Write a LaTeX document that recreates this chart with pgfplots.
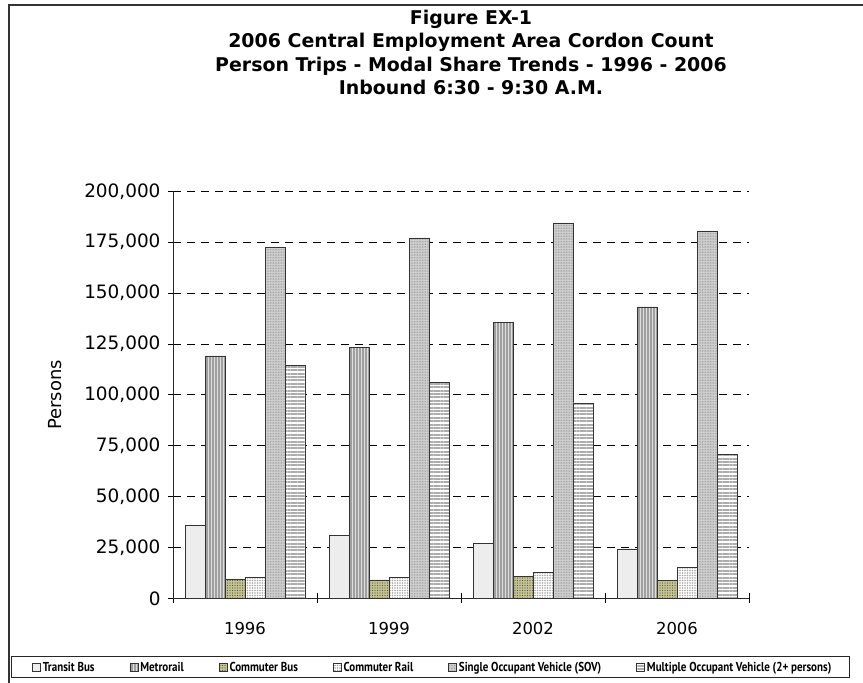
\documentclass[border=0pt]{standalone}
\usepackage{fontspec}
\setmainfont{DejaVu Sans}
\newfontfamily\legfont[FakeStretch=0.85]{PT Sans}
\usepackage{pgfplots}
\pgfplotsset{compat=1.18}
\usetikzlibrary{patterns,patterns.meta}

\definecolor{cbfill}{RGB}{196,196,150}
\definecolor{cbdot}{RGB}{90,90,50}

\pgfplotsset{
  tb/.style={draw=black!80, fill=gray!10, postaction={pattern={Dots[distance=2bp,radius=0.45bp]}, pattern color=gray!55}},
  mr/.style={draw=black!80, fill=gray!25, postaction={pattern={Lines[angle=90,distance=3bp,line width=1.3bp]}, pattern color=gray!75}},
  cb/.style={draw=black!80, fill=cbfill, postaction={pattern={Dots[distance=2.5bp,radius=0.7bp]}, pattern color=cbdot}},
  cr/.style={draw=black!80, fill=white, postaction={pattern={Dots[distance=2.5bp,radius=0.8bp]}, pattern color=gray!70}},
  sov/.style={draw=black!80, fill=gray!35, postaction={pattern={Dots[distance=1.6bp,radius=0.45bp]}, pattern color=gray!85}},
  mov/.style={draw=black!80, fill=white, postaction={pattern={Lines[angle=0,distance=3.4bp,line width=2bp]}, pattern color=gray!65}},
}

\begin{document}
\begin{tikzpicture}
  % outer chart frame
  \draw[line width=1.5bp, black!80] (9bp,0bp) -- (9bp,678bp) -- (863bp,678bp);

  \node[align=center, inner sep=0pt, anchor=north,
        font=\bfseries\fontsize{19}{23.5}\selectfont] at (471bp,673bp)
    {Figure EX-1\\2006 Central Employment Area Cordon Count\\Person Trips - Modal Share Trends - 1996 - 2006\\Inbound 6:30 - 9:30 A.M.};

  % legend frame
  \draw[line width=1bp, black!85] (11bp,5bp) rectangle (849bp,26bp);

  \begin{axis}[
      at={(173bp,84.7bp)}, anchor=south west,
      scale only axis, width=576bp, height=407bp,
      ybar=0pt, bar width=20bp,
      xmin=-0.5, xmax=3.5, ymin=0, ymax=200000,
      xtick={-0.5,0.5,1.5,2.5,3.5},
      x tick label as interval,
      xticklabels={1996,1999,2002,2006},
      ytick={0,25000,...,200000},
      scaled y ticks=false,
      /pgf/number format/fixed,
      /pgf/number format/1000 sep={,},
      /pgf/number format/assume math mode=true,
      y tick label style={font=\fontsize{18.5}{20}\selectfont, xshift=-4bp},
      x tick label style={font=\fontsize{16.5}{20}\selectfont, yshift=-15bp},
      tick align=center, major tick length=10bp,
      tick style={black, line width=0.8bp},
      ymajorgrids=true,
      grid style={black, line width=0.8bp, dash pattern=on 8bp off 6bp},
      axis x line*=bottom, axis y line*=left,
      axis line style={-, line width=0.9bp, black!85},
      ylabel={Persons},
      ylabel style={at={(axis description cs:-0.205,0.5)}, anchor=center,
                    font=\fontsize{18}{20}\selectfont},
      legend columns=6,
      legend style={at={(axis description cs:-0.25,-0.170)}, anchor=west,
                    draw=none, fill=none,
                    font=\legfont\bfseries\fontsize{13}{14}\selectfont,
                    /tikz/every even column/.append style={column sep=33bp}},
      legend image code/.code={\draw[#1, line width=0.7bp] (0bp,-4bp) rectangle (8bp,4bp);},
    ]

    \addplot[tb] coordinates {(0,36000) (1,31000) (2,27100) (3,24300)};
    \addplot[mr] coordinates {(0,119100) (1,123300) (2,135600) (3,143200)};
    \addplot[cb] coordinates {(0,9600) (1,9100) (2,10800) (3,8800)};
    \addplot[cr] coordinates {(0,10300) (1,10300) (2,12700) (3,15300)};
    \addplot[sov] coordinates {(0,172700) (1,177100) (2,184500) (3,180600)};
    \addplot[mov] coordinates {(0,114700) (1,106400) (2,96100) (3,70900)};

    \legend{Transit Bus, Metrorail, Commuter Bus, Commuter Rail, Single Occupant Vehicle (SOV), Multiple Occupant Vehicle (2+ persons)}
  \end{axis}

  \pgfresetboundingbox
  \path[use as bounding box] (0bp,0bp) rectangle (863bp,683bp);
\end{tikzpicture}
\end{document}
